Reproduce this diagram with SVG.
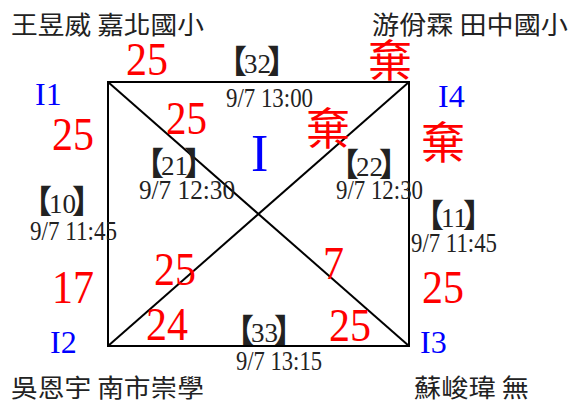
<svg xmlns="http://www.w3.org/2000/svg" width="573" height="405" viewBox="0 0 573 405">
<style>
.name{font-family:"Noto Sans CJK TC","Noto Sans CJK SC",sans-serif;font-size:25px;fill:#222}
.node{font-family:"Liberation Serif","Times New Roman",serif;font-size:32px;fill:#0000ff}
.score{font-family:"Liberation Serif","Times New Roman",serif;font-size:46px;fill:#ff0000}
.qi{font-family:"Noto Sans CJK TC","Noto Sans CJK SC",sans-serif;font-size:44px;fill:#ff0000}
.date{font-family:"Liberation Serif","Times New Roman",serif;font-size:28px;fill:#222}
.br{font-family:"Liberation Serif","Times New Roman",serif;font-size:27px;fill:#222}
.bk{font-family:"Noto Sans CJK TC","Noto Sans CJK SC",sans-serif;font-weight:bold;font-size:32px}
.ln{stroke:#000;stroke-width:2;fill:none}
</style>
<rect width="573" height="405" fill="#fff"/>
<g id="connectors">
<line class="ln" x1="107" y1="82" x2="410" y2="82"/>
<line class="ln" x1="107" y1="346" x2="410" y2="346"/>
<line class="ln" x1="108" y1="81" x2="108" y2="347"/>
<line class="ln" x1="409" y1="81" x2="409" y2="347"/>
<line class="ln" x1="108" y1="82" x2="409" y2="346"/>
<line class="ln" x1="108" y1="346" x2="409" y2="82"/>
</g>
<g id="I1">
<text class="name" x="11" y="34" textLength="193" lengthAdjust="spacingAndGlyphs">王昱威 嘉北國小</text>
<text class="node" x="35" y="105">I1</text>
</g>
<g id="I4">
<text class="name" x="372" y="34" textLength="196" lengthAdjust="spacingAndGlyphs">游佾霖 田中國小</text>
<text class="node" x="438" y="107">I4</text>
</g>
<g id="I2">
<text class="name" x="11" y="397" textLength="193" lengthAdjust="spacingAndGlyphs">吳恩宇 南市崇學</text>
<text class="node" x="50" y="353">I2</text>
</g>
<g id="I3">
<text class="name" x="414" y="397" textLength="115" lengthAdjust="spacingAndGlyphs">蘇峻瑋 無</text>
<text class="node" x="420" y="353">I3</text>
</g>
<g id="center">
<text class="node" x="251" y="171" style="font-size:52px">I</text>
</g>
<g id="scores">
<text class="score" x="126" y="75" textLength="42" lengthAdjust="spacingAndGlyphs">25</text>
<text class="qi" x="368" y="77">棄</text>
<text class="score" x="52" y="150" textLength="42" lengthAdjust="spacingAndGlyphs">25</text>
<text class="score" x="166" y="134" textLength="41" lengthAdjust="spacingAndGlyphs">25</text>
<text class="qi" x="306" y="145">棄</text>
<text class="qi" x="421" y="159">棄</text>
<text class="score" x="52" y="303" textLength="42" lengthAdjust="spacingAndGlyphs">17</text>
<text class="score" x="422" y="303" textLength="42" lengthAdjust="spacingAndGlyphs">25</text>
<text class="score" x="154" y="285" textLength="42" lengthAdjust="spacingAndGlyphs">25</text>
<text class="score" x="323" y="279" textLength="21" lengthAdjust="spacingAndGlyphs">7</text>
<text class="score" x="146" y="340" textLength="42" lengthAdjust="spacingAndGlyphs">24</text>
<text class="score" x="329" y="341" textLength="42" lengthAdjust="spacingAndGlyphs">25</text>
</g>
<g id="games">
<text class="br" x="215" y="73"><tspan class="bk">【</tspan><tspan dx="-3">32</tspan><tspan class="bk" dx="-4">】</tspan></text>
<text class="date" x="226" y="107" textLength="87" lengthAdjust="spacingAndGlyphs">9/7 13:00</text>
<text class="br" x="132" y="175"><tspan class="bk">【</tspan><tspan dx="-3">21</tspan><tspan class="bk" dx="-4">】</tspan></text>
<text class="date" x="139" y="199" textLength="96" lengthAdjust="spacingAndGlyphs">9/7 12:30</text>
<text class="br" x="327" y="176"><tspan class="bk">【</tspan><tspan dx="-3">22</tspan><tspan class="bk" dx="-4">】</tspan></text>
<text class="date" x="336" y="199" textLength="87" lengthAdjust="spacingAndGlyphs">9/7 12:30</text>
<text class="br" x="20" y="213"><tspan class="bk">【</tspan><tspan dx="-3">10</tspan><tspan class="bk" dx="-4">】</tspan></text>
<text class="date" x="30" y="240" textLength="87" lengthAdjust="spacingAndGlyphs">9/7 11:45</text>
<text class="br" x="412" y="227"><tspan class="bk">【</tspan><tspan dx="-3">11</tspan><tspan class="bk" dx="-4">】</tspan></text>
<text class="date" x="411" y="252" textLength="86" lengthAdjust="spacingAndGlyphs">9/7 11:45</text>
<text class="br" x="222" y="342"><tspan class="bk">【</tspan><tspan dx="-3">33</tspan><tspan class="bk" dx="-4">】</tspan></text>
<text class="date" x="236" y="370" textLength="86" lengthAdjust="spacingAndGlyphs">9/7 13:15</text>
</g>
</svg>
